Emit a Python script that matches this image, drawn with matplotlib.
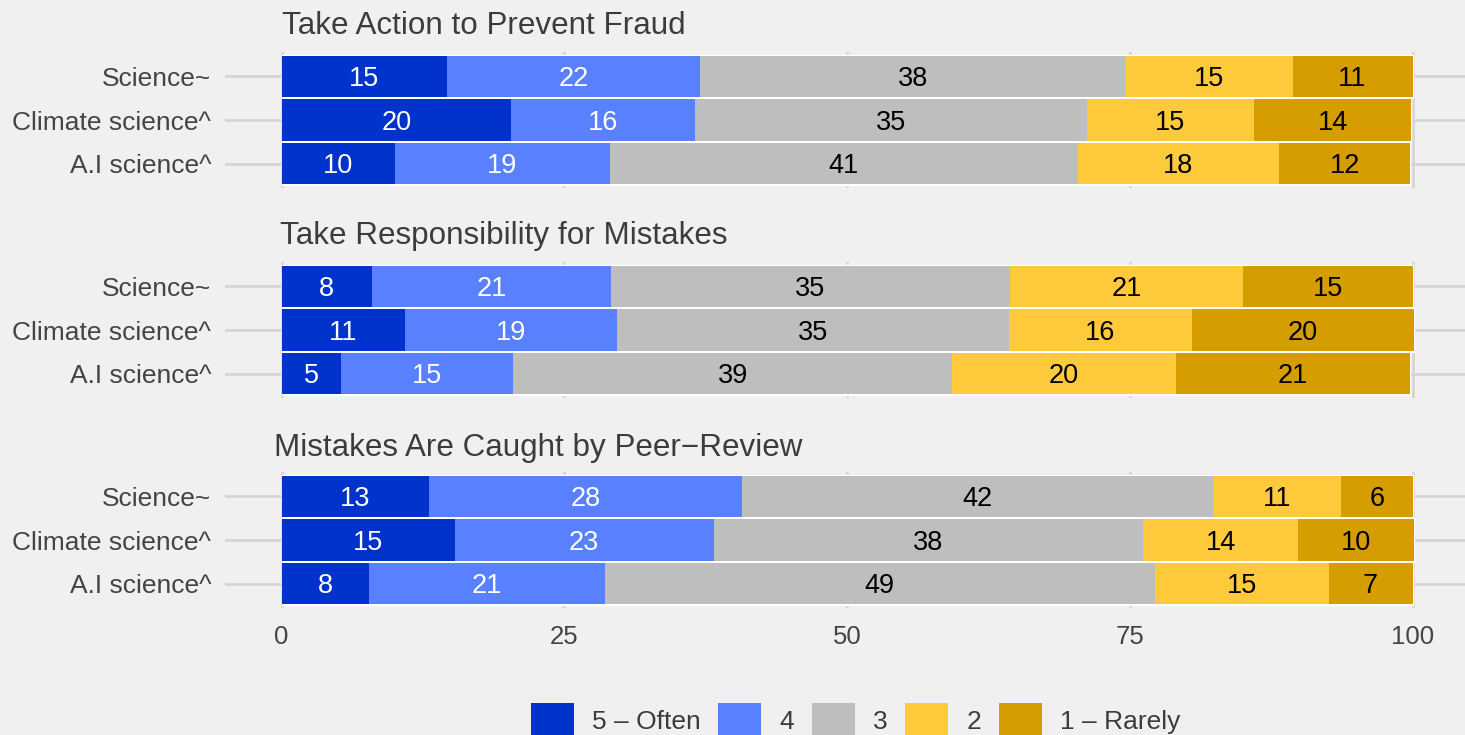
import matplotlib
matplotlib.use("Agg")
import matplotlib.pyplot as plt
from matplotlib.patches import Patch

# ---------------- data ----------------
categories = ["Science~", "Climate science^", "A.I science^"]
levels = ["5 \u2013 Often", "4", "3", "2", "1 \u2013 Rarely"]
panel_titles = ["Take Action to Prevent Fraud",
                "Take Responsibility for Mistakes",
                "Mistakes Are Caught by Peer\u2212Review"]

fraud_science = [14.6, 22.4, 37.6, 14.8, 10.6]
fraud_climate = [20.3, 16.3, 34.6, 14.8, 13.9]
fraud_ai = [10.0, 19.0, 41.4, 17.8, 11.6]

resp_science = [8.0, 21.1, 35.3, 20.6, 15.0]
resp_climate = [10.9, 18.8, 34.6, 16.2, 19.6]
resp_ai = [5.3, 15.2, 38.8, 19.8, 20.7]

peer_science = [13.0, 27.7, 41.7, 11.3, 6.3]
peer_climate = [15.3, 22.9, 38.0, 13.7, 10.2]
peer_ai = [7.7, 20.9, 48.6, 15.4, 7.4]

x_ticks = [0, 25, 50, 75, 100]

panels = [
    [fraud_science, fraud_climate, fraud_ai],
    [resp_science, resp_climate, resp_ai],
    [peer_science, peer_climate, peer_ai],
]

# ---------------- style ----------------
colors = ["#0033CC", "#5880FF", "#BEBEBE", "#FFC93C", "#D69D00"]
text_colors = ["white", "white", "black", "black", "black"]
BG = "#F0F0F0"
GRID = "#D4D4D4"
FONT = ["Liberation Sans", "DejaVu Sans"]
plt.rcParams["font.family"] = FONT

W, H = 1465, 735
fig = plt.figure(figsize=(W / 100, H / 100), dpi=100, facecolor=BG)

ax_left_px, ax_right_px = 225, 1465
ax_tops_px = [52, 262, 472]
ax_h_px = 136
title_x_px = [282, 280, 274]
title_base_px = [34.3, 244.3, 455.7]
label_size = 19.5

y_pos = [3, 2, 1]
for p, rows in enumerate(panels):
    top = ax_tops_px[p]
    ax = fig.add_axes([ax_left_px / W, 1 - (top + ax_h_px) / H,
                       (ax_right_px - ax_left_px) / W, ax_h_px / H])
    ax.set_facecolor("none")
    ax.set_xlim(-5.0, 104.64)
    ax.set_ylim(0.44, 3.56)
    for s in ax.spines.values():
        s.set_visible(False)
    for xv in x_ticks:
        ax.axvline(xv, color=GRID, lw=1.9, zorder=0)
    for yv in y_pos:
        ax.axhline(yv, color=GRID, lw=1.9, zorder=0)

    for yv, vals in zip(y_pos, rows):
        total = sum(vals)
        ax.barh(yv, total, height=1.0, color="white", edgecolor="white",
                lw=1.0, zorder=1)
        left = 0.0
        for k, v in enumerate(vals):
            ax.barh(yv, v, left=left, height=0.955, color=colors[k],
                    lw=0, zorder=2)
            ax.annotate(f"{v:.0f}", xy=(left + v / 2, yv),
                        xytext=(0, -0.358 * label_size),
                        textcoords="offset points", ha="center",
                        va="baseline", color=text_colors[k],
                        fontsize=label_size, zorder=3)
            left += v

    ax.set_yticks(y_pos)
    ax.set_yticklabels(categories, fontsize=19, color="#444444")
    ax.tick_params(axis="y", length=0, pad=10)
    if p == 2:
        ax.set_xticks(x_ticks)
        ax.set_xticklabels([str(t) for t in x_ticks], fontsize=18.5,
                           color="#444444")
        ax.tick_params(axis="x", length=0, pad=12)
    else:
        ax.set_xticks([])

    fig.text(title_x_px[p] / W, 1 - title_base_px[p] / H, panel_titles[p],
             ha="left", va="baseline", fontsize=22.6, color="#3C3C3C")

handles = [Patch(facecolor=c, edgecolor="none", label=l)
           for c, l in zip(colors, levels)]
leg = fig.legend(handles=handles, loc="center", ncol=5, frameon=False,
                 bbox_to_anchor=(855.5 / W, 1 - 720 / H),
                 fontsize=19, handlelength=1.63, handleheight=1.63,
                 handletextpad=0.68, columnspacing=0.68, borderpad=0,
                 borderaxespad=0)
for t in leg.get_texts():
    t.set_color("#3C3C3C")

fig.savefig("out.png", dpi=100, facecolor=BG)
